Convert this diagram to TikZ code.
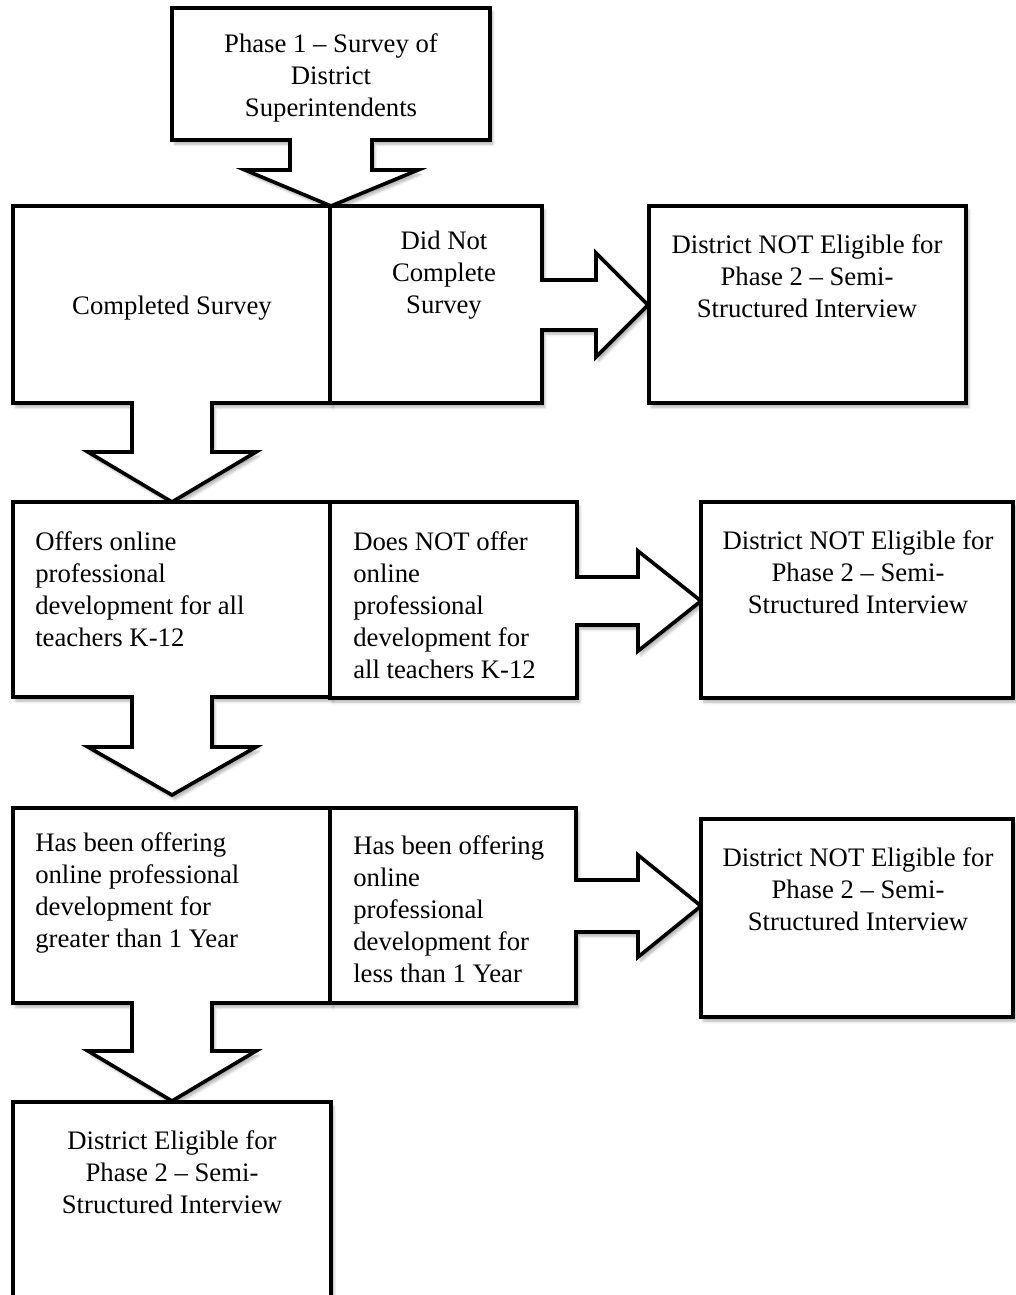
\documentclass[tikz,border=0pt]{standalone}
\usepackage{fontspec}
\setmainfont{Liberation Serif}
\usetikzlibrary{shadows.blur}

\tikzset{
  callout/.style={draw=black, fill=white, line width=2.6pt, line join=miter,
    blur shadow={shadow xshift=2pt, shadow yshift=-3pt, shadow blur steps=6, shadow opacity=30}},
  boxtext/.style={font=\fontsize{19}{22.8}\selectfont, align=center, inner sep=0pt},
  lefttext/.style={boxtext, align=left, anchor=west}
}

\begin{document}
\begin{tikzpicture}[x=0.025cm, y=-0.025cm]
\useasboundingbox (0,0) rectangle (1016,1295);

% phase 1
\draw[callout] (172,8) -- (490,8) -- (490,140) -- (372,140) -- (372,170) -- (418,170)
  -- (331,206) -- (245,170) -- (290,170) -- (290,140) -- (172,140) -- cycle;
\node[boxtext] (phase1) at (331,78) {Phase 1 -- Survey of\\District\\Superintendents};

% row 1
\draw[callout] (13,206) -- (330,206) -- (330,403) -- (212,403) -- (212,452) -- (256,452)
  -- (172,502) -- (88,452) -- (132,452) -- (132,403) -- (13,403) -- cycle;
\draw[callout] (330,206) -- (542,206) -- (542,280) -- (596,280) -- (596,253) -- (648,305)
  -- (596,357) -- (596,330) -- (542,330) -- (542,403) -- (330,403) -- cycle;
\draw[callout] (649,206) rectangle (966,403);
\node[boxtext] (completed) at (172,308) {Completed Survey};
\node[boxtext] (notcompleted) at (444,275) {Did Not\\Complete\\Survey};
\node[boxtext] (ineligible1) at (807,276) {District NOT Eligible for\\Phase 2 -- Semi-\\Structured Interview};

% row 2
\draw[callout] (13,502) -- (330,502) -- (330,697) -- (212,697) -- (212,747) -- (256,747)
  -- (172,795) -- (88,747) -- (132,747) -- (132,697) -- (13,697) -- cycle;
\draw[callout] (330,502) -- (577,502) -- (577,577) -- (638,577) -- (638,551) -- (701,601)
  -- (638,651) -- (638,625) -- (577,625) -- (577,698) -- (330,698) -- cycle;
\draw[callout] (701,502) rectangle (1013,698);
\node[lefttext] (offers) at (35,589) {Offers online\\professional\\development for all\\teachers K-12};
\node[lefttext] (notoffer) at (353,605) {Does NOT offer\\online\\professional\\development for\\all teachers K-12};
\node[boxtext] (ineligible2) at (858,572) {District NOT Eligible for\\Phase 2 -- Semi-\\Structured Interview};

% row 3
\draw[callout] (13,808) -- (330,808) -- (330,1003) -- (212,1003) -- (212,1051) -- (256,1051)
  -- (172,1101) -- (88,1051) -- (132,1051) -- (132,1003) -- (13,1003) -- cycle;
\draw[callout] (330,808) -- (576,808) -- (576,880) -- (638,880) -- (638,855) -- (701,906)
  -- (638,957) -- (638,932) -- (576,932) -- (576,1003) -- (330,1003) -- cycle;
\draw[callout] (701,819) rectangle (1013,1017);
\node[lefttext] (overyear) at (35,893) {Has been offering\\online professional\\development for\\greater than 1 Year};
\node[lefttext] (underyear) at (353,909) {Has been offering\\online\\professional\\development for\\less than 1 Year};
\node[boxtext] (ineligible3) at (858,889) {District NOT Eligible for\\Phase 2 -- Semi-\\Structured Interview};

% final
\draw[callout] (13,1102) rectangle (331,1320);
\node[boxtext] (eligible) at (172,1172) {District Eligible for\\Phase 2 -- Semi-\\Structured Interview};

\end{tikzpicture}
\end{document}
